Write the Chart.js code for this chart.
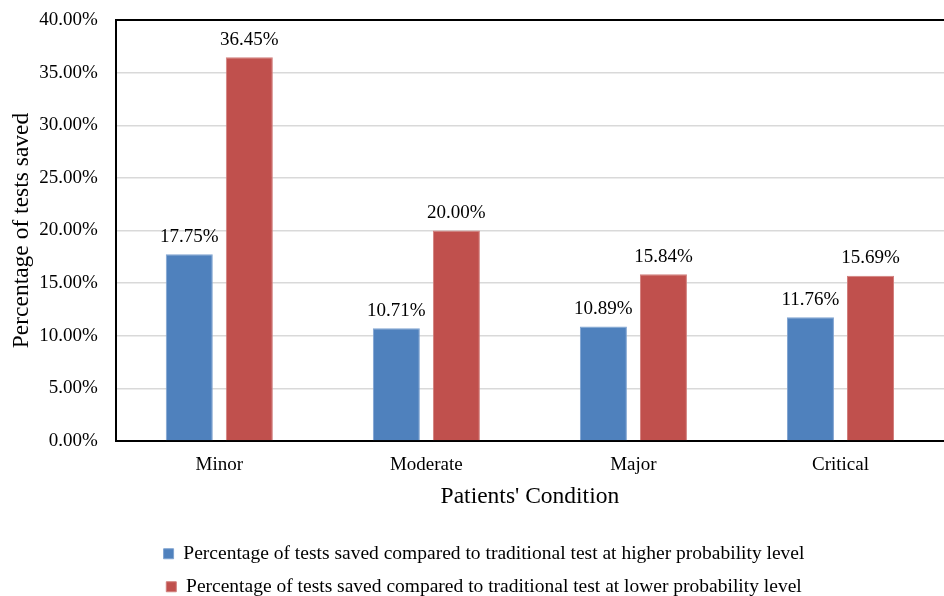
<!DOCTYPE html>
<html>
<head>
<meta charset="utf-8">
<script src="https://cdn.jsdelivr.net/npm/chart.js@4/dist/chart.umd.min.js"></script>
<style>
  html, body { margin: 0; padding: 0; background: #fff; }
  #wrap { width: 944px; height: 596px; position: relative; }
</style>
</head>
<body>
<div id="wrap"><canvas id="chart"></canvas></div>
<script>
// Patient condition categories
const conditions = ['Minor', 'Moderate', 'Major', 'Critical'];

// Share of tests saved (%) versus the traditional test
const savedHigherProb = [17.75, 10.71, 10.89, 11.76];
const savedLowerProb = [36.45, 20.00, 15.84, 15.69];

const seriesNames = [
  'Percentage of tests saved compared to traditional test at higher probability level',
  'Percentage of tests saved compared to traditional test at lower probability level'
];

const yMax = 40;
const yStep = 5;

const FONT = '"Liberation Serif", "Times New Roman", serif';

// Writes each bar's value just above it
const valueLabels = {
  id: 'valueLabels',
  afterDatasetsDraw(chart) {
    const ctx = chart.ctx;
    ctx.save();
    ctx.font = '19px ' + FONT;
    ctx.fillStyle = '#000';
    ctx.textAlign = 'center';
    ctx.textBaseline = 'bottom';
    chart.data.datasets.forEach((ds, di) => {
      const meta = chart.getDatasetMeta(di);
      meta.data.forEach((bar, i) => {
        ctx.fillText(ds.data[i].toFixed(2) + '%', bar.x, bar.y - 8);
      });
    });
    ctx.restore();
  }
};

// Nudges the legend block a little to the right of the page centre
const legendShift = {
  id: 'legendShift',
  afterLayout(chart) {
    const lg = chart.legend;
    if (lg) { lg.left += 12; lg.right += 12; }
  }
};

new Chart(document.getElementById('chart'), {
  type: 'bar',
  data: {
    labels: conditions,
    datasets: [
      {
        label: seriesNames[0],
        data: savedHigherProb,
        backgroundColor: '#4F81BD',
        borderColor: '#7FA3D1',
        borderWidth: 1
      },
      {
        label: seriesNames[1],
        data: savedLowerProb,
        backgroundColor: '#C0504D',
        borderColor: '#D27F7D',
        borderWidth: 1
      }
    ]
  },
  options: {
    responsive: true,
    maintainAspectRatio: false,
    animation: false,
    devicePixelRatio: 1,
    categoryPercentage: 0.58,
    barPercentage: 0.783,
    layout: { padding: { top: 0, right: 0, left: 0, bottom: -10.5 } },
    plugins: {
      tooltip: { enabled: false },
      legend: {
        position: 'bottom',
        labels: {
          boxWidth: 10,
          boxHeight: 10,
          padding: 13.5,
          color: '#000',
          font: { family: FONT, size: 19.5 }
        }
      }
    },
    scales: {
      x: {
        grid: { display: false, drawTicks: false },
        border: { color: '#000', width: 2 },
        ticks: { color: '#000', padding: 13, font: { family: FONT, size: 19 } },
        title: {
          display: true,
          text: "Patients' Condition",
          color: '#000',
          padding: { top: -7, bottom: 19.5 },
          font: { family: FONT, size: 23.5 }
        }
      },
      y: {
        min: 0,
        max: yMax,
        afterFit: (scale) => { scale.paddingTop = 20; },
        grid: {
          drawTicks: false,
          lineWidth: (c) => (c.tick && c.tick.value === yMax ? 2 : 1.5),
          color: (c) => (c.tick && c.tick.value === yMax ? '#000' : '#D9D9D9')
        },
        border: { color: '#000', width: 2 },
        ticks: {
          stepSize: yStep,
          color: '#000',
          padding: 18,
          font: { family: FONT, size: 19 },
          callback: (v) => v.toFixed(2) + '%'
        },
        title: {
          display: true,
          text: 'Percentage of tests saved',
          color: '#000',
          padding: { top: 8, bottom: -15 },
          font: { family: FONT, size: 23.5 }
        }
      }
    }
  },
  plugins: [valueLabels, legendShift]
});
</script>
</body>
</html>
